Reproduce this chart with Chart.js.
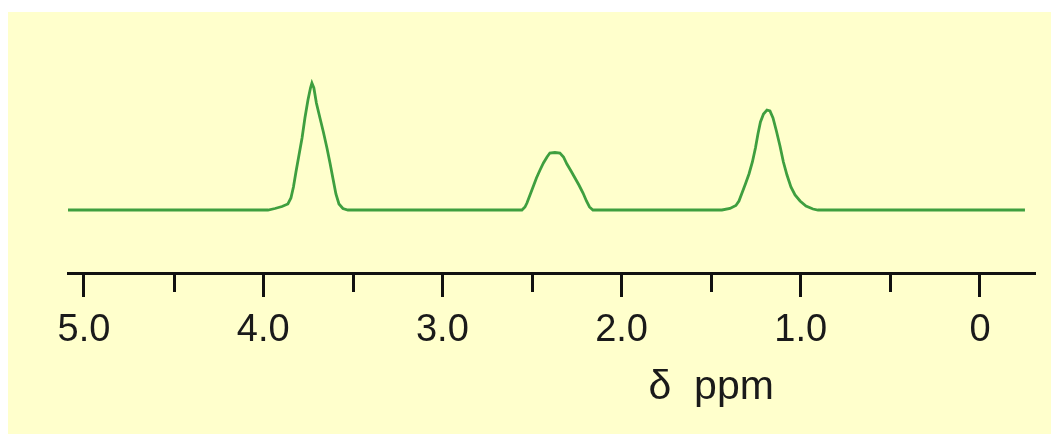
<!DOCTYPE html>
<html>
<head>
<meta charset="utf-8">
<script src="https://cdn.jsdelivr.net/npm/chart.js@4/dist/chart.umd.min.js"></script>
<style>
  html, body { margin: 0; padding: 0; background: #ffffff; }
  #wrap { position: relative; width: 1051px; height: 434px; }
  canvas { position: absolute; left: 0; top: 0; }
</style>
</head>
<body>
<div id="wrap"><canvas id="c" width="1051" height="434"></canvas></div>
<script>
// chemical shift (ppm) and relative intensity
const shiftPpm = [5.09,
  3.973, 3.934, 3.895, 3.862, 3.845, 3.831, 3.817, 3.800, 3.783, 3.767, 3.750, 3.736,
  3.728, 3.717, 3.703, 3.683, 3.664, 3.644, 3.627, 3.610, 3.594, 3.577, 3.555, 3.527,
  2.556, 2.539, 2.528, 2.511, 2.494, 2.475, 2.455, 2.436, 2.416, 2.400, 2.372, 2.344,
  2.324, 2.305, 2.282, 2.260, 2.238, 2.215, 2.196, 2.179, 2.160,
  1.440, 1.395, 1.362, 1.345, 1.328, 1.309, 1.289, 1.270, 1.253, 1.239, 1.225, 1.208,
  1.189, 1.172, 1.155, 1.136, 1.116, 1.097, 1.077, 1.055, 1.032, 1.004, 0.971, 0.932, 0.904,
  -0.251];
const intensity = [0,
  0, 1.5, 3.5, 6, 12, 23, 38, 55, 72, 92, 110, 122,
  127, 122, 107, 92, 78, 62, 47, 31, 16, 6, 1.5, 0,
  0, 3, 7, 15, 23, 32, 40, 47, 53, 57, 57.5, 57,
  53, 46, 39, 32, 25, 17, 9, 3, 0,
  0, 1.5, 4.5, 9, 17, 26, 36, 48, 62, 76, 88, 96,
  100, 99, 92, 79, 64, 48, 35, 23, 15, 9, 4, 1, 0,
  0];
const majorTicks = [5, 4, 3, 2, 1, 0];
const majorTickLabels = ['5.0', '4.0', '3.0', '2.0', '1.0', '0'];
const minorTicks = [4.5, 3.5, 2.5, 1.5, 0.5];
const axisTitle = 'δ  ppm';
const axisTitlePpm = 1.5;

const points = shiftPpm.map((x, i) => ({ x: x, y: intensity[i] }));

const bgPlugin = {
  id: 'bg',
  beforeDraw(chart) {
    const ctx = chart.ctx;
    ctx.save();
    ctx.fillStyle = '#ffffff';
    ctx.fillRect(0, 0, chart.width, chart.height);
    ctx.fillStyle = '#ffffcc';
    ctx.fillRect(8, 12, chart.width - 8, chart.height - 12);
    ctx.restore();
  }
};

const minorTickPlugin = {
  id: 'minorTicks',
  afterDraw(chart) {
    const ctx = chart.ctx;
    const xs = chart.scales.x;
    const top = chart.chartArea.bottom;
    ctx.save();
    ctx.strokeStyle = '#111111';
    ctx.lineWidth = 3;
    minorTicks.forEach(v => {
      const px = Math.round(xs.getPixelForValue(v)) + 0.5;
      ctx.beginPath();
      ctx.moveTo(px, top);
      ctx.lineTo(px, top + 19);
      ctx.stroke();
    });
    // axis title
    ctx.fillStyle = '#1a1a1a';
    ctx.font = '41px "Liberation Sans", Arial, sans-serif';
    ctx.textAlign = 'center';
    ctx.textBaseline = 'alphabetic';
    ctx.fillText(axisTitle, xs.getPixelForValue(axisTitlePpm), 399);
    ctx.restore();
  }
};

new Chart(document.getElementById('c'), {
  type: 'line',
  data: {
    datasets: [{
      data: points,
      borderColor: '#3f9f3f',
      borderWidth: 2.8,
      pointRadius: 0,
      tension: 0,
      fill: false
    }]
  },
  options: {
    responsive: false,
    animation: false,
    devicePixelRatio: 1,
    layout: { padding: { left: 68, right: 16, top: 20, bottom: 0 } },
    plugins: { legend: { display: false }, tooltip: { enabled: false } },
    scales: {
      x: {
        type: 'linear',
        reverse: true,
        min: -0.307,
        max: 5.089,
        afterFit(scale) { scale.height = 161; },
        afterBuildTicks(scale) { scale.ticks = majorTicks.map(v => ({ value: v })); },
        border: { display: true, color: '#111111', width: 3 },
        grid: { drawOnChartArea: false, drawTicks: true, tickLength: 24, tickColor: '#111111', tickWidth: 3 },
        ticks: {
          includeBounds: false,
          maxRotation: 0,
          autoSkip: false,
          padding: 11,
          color: '#1a1a1a',
          font: { family: '"Liberation Sans", Arial, sans-serif', size: 38 },
          callback(v) {
            const i = majorTicks.indexOf(v);
            return i >= 0 ? majorTickLabels[i] : '';
          }
        }
      },
      y: {
        display: false,
        min: -63,
        max: 190
      }
    }
  },
  plugins: [bgPlugin, minorTickPlugin]
});
</script>
</body>
</html>
